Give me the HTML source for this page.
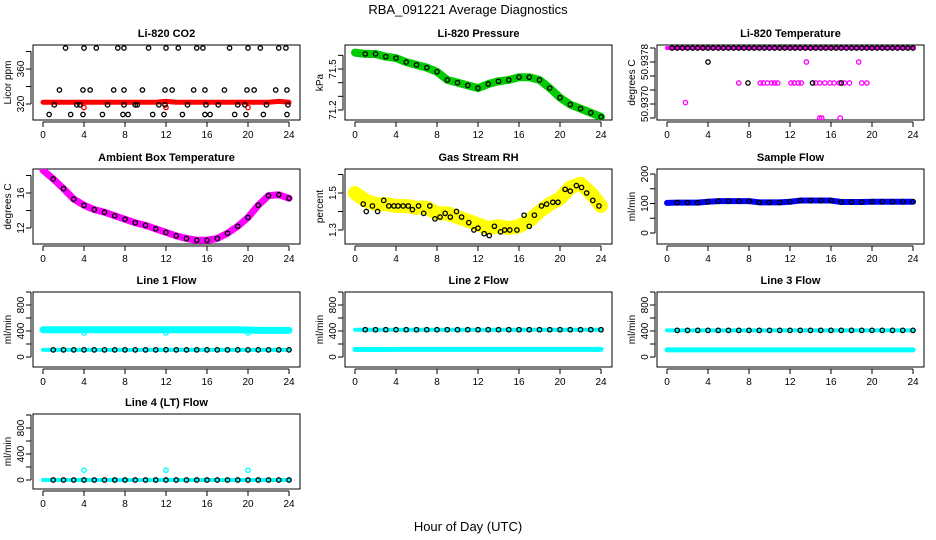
<!DOCTYPE html>
<html><head><meta charset="utf-8"><style>
html,body{margin:0;padding:0;background:#fff;}
svg{display:block;font-family:"Liberation Sans",sans-serif;}
</style></head><body>
<svg id="chart" width="936" height="540" viewBox="0 0 936 540" xmlns="http://www.w3.org/2000/svg">
<rect x="0" y="0" width="936" height="540" fill="#fff"/>
<text x="468" y="14" text-anchor="middle" font-size="13">RBA_091221  Average Diagnostics</text>
<text x="468" y="531" text-anchor="middle" font-size="13">Hour of Day (UTC)</text>
</svg>
<script>
// ---- data ----
const xTicks = [0,4,8,12,16,20,24];
const hours = [0,1,2,3,4,5,6,7,8,9,10,11,12,13,14,15,16,17,18,19,20,21,22,23,24];

const co2TopT = [2.2,4,5.2,7.3,7.9,10.3,12,13.2,15,15.6,18.2,20,21.2,23,23.7];
const co2TopV = [384,384,384,384,384,384,384,384,384,384,384,384,384,384,384];
const co2MidT = [1.6,3.9,4.6,6.9,7.9,9.7,11.9,12.6,14.7,15.8,17.7,19.9,20.6,22.7,23.8];
const co2MidV = [336,336,336,336,336,336,336,336,336,336,336,336,336,336,336];
const co2LowT = [1.1,3.3,3.6,6.3,7.9,9.0,9.2,11.3,11.9,14.1,15.9,17.1,19.0,19.7,21.8,23.9];
const co2LowV = [319,319,319,319,319,319,319,319,319,319,319,319,319,319,319,319];
const co2BotT = [0.6,2.7,3.9,5.8,7.8,8.3,10.7,11.8,13.6,15.8,16.3,18.7,19.8,21.5,23.8];
const co2BotV = [308,308,308,308,308,308,308,308,308,308,308,308,308,308,308];
const co2Red = [322,322,322,322,322,322,322,322,322,322,322,322,323,322,322,322,322,322,322,322,322,322,322,323,322];

const presBand = [71.62,71.61,71.61,71.59,71.58,71.55,71.53,71.51,71.48,71.42,71.40,71.38,71.36,71.39,71.41,71.42,71.44,71.44,71.42,71.36,71.29,71.24,71.21,71.18,71.15];

const tempTopT = [0.5,1,1.5,2,2.5,3,3.5,4,4.5,5,5.5,6,6.5,7,7.5,8,8.5,9,9.5,10,10.5,11,11.5,12,12.5,13,13.5,14,14.5,15,15.5,16,16.5,17,17.5,18,18.5,19,19.5,20,20.5,21,21.5,22,22.5,23,23.5,24];
const tempBlkT = [4,7.9,14.2,17];
const tempBlkV = [50.93775,50.937675,50.937675,50.937675];
const tempMagT = [1.8,13.6,18.7,7,9.1,9.4,9.8,10.2,10.5,10.8,12.1,12.4,12.8,13.1,14.5,14.9,15.4,15.9,16.3,16.8,17.3,17.8,19.0,19.5,14.9,15.1,16.9];
const tempMagV = [50.937605,50.93775,50.93775,50.937675,50.937675,50.937675,50.937675,50.937675,50.937675,50.937675,50.937675,50.937675,50.937675,50.937675,50.937675,50.937675,50.937675,50.937675,50.937675,50.937675,50.937675,50.937675,50.937675,50.937675,50.93755,50.93755,50.93755];

const ambient = [18.6,17.6,16.5,15.3,14.6,14.1,13.8,13.4,13.0,12.6,12.3,11.9,11.5,11.1,10.8,10.6,10.6,10.8,11.4,12.2,13.2,14.6,15.7,15.8,15.4];

const rhYellow = [1.50,1.46,1.44,1.44,1.43,1.43,1.42,1.42,1.39,1.39,1.37,1.35,1.33,1.31,1.32,1.31,1.32,1.35,1.40,1.44,1.47,1.53,1.55,1.50,1.43];
const rhBlkT = [0.8,1.1,1.7,2.2,2.8,3.3,3.8,4.2,4.7,5.2,5.6,6.2,6.7,7.3,7.8,8.3,8.8,9.3,9.9,10.4,11.1,11.6,12.0,12.6,13.1,13.6,14.2,14.6,15.1,15.8,16.5,17.0,17.5,18.2,18.7,19.3,19.8,20.5,21.0,21.6,22.1,22.6,23.2,23.8];
const rhBlkV = [1.44,1.40,1.43,1.40,1.46,1.43,1.43,1.43,1.43,1.43,1.41,1.43,1.39,1.43,1.36,1.37,1.39,1.37,1.40,1.37,1.34,1.30,1.31,1.28,1.27,1.32,1.29,1.30,1.30,1.30,1.38,1.32,1.38,1.43,1.44,1.45,1.45,1.52,1.51,1.54,1.53,1.50,1.46,1.43];

const sampleFlow = [102,103,103,103,106,108,108,108,108,104,104,104,106,110,110,110,110,105,105,105,106,106,106,106,106];

const line1Upper = [420,420,420,420,420,420,420,420,420,420,420,420,420,420,420,420,420,420,420,420,415,410,410,410,410];
const line1Lower = [110,110,110,110,110,110,110,110,110,110,110,110,112,110,110,110,110,110,110,110,110,110,110,110,110];
const line2Upper = [420,420,420,420,420,420,420,420,420,420,420,420,420,420,420,420,420,420,420,420,420,420,420,420,420];
const line2Lower = [115,115,115,115,118,118,118,118,118,118,118,118,118,118,118,118,118,118,118,118,118,118,118,118,118];
const line3Upper = [410,410,410,410,410,410,410,410,410,410,410,410,410,410,410,410,410,410,410,410,410,410,410,410,410];
const line3Lower = [110,110,110,110,110,110,110,110,110,110,110,110,110,110,110,110,110,110,110,110,110,110,110,110,110];
const line4Base = [0,0,0,0,0,0,0,0,0,0,0,0,0,0,0,0,0,0,0,0,0,0,0,0,0];
const outlierT = [4,12,20];
const line1OutV = [370,370,370];
const line4OutV = [150,150,150];

// ---- drawing ----
const NS = "http://www.w3.org/2000/svg";
const svg = document.getElementById('chart');
const colX = [0,312,624];
const rowY = [45,169,292,414];
const BH = 75;
function mk(tag, attrs, parent){
  const e = document.createElementNS(NS, tag);
  for (const k in attrs) e.setAttribute(k, attrs[k]);
  (parent||svg).appendChild(e);
  return e;
}
function panel(col,row,title,ylab,yA,yB,ticks,labels,name){
  const cx = colX[col], top = rowY[row];
  const g = mk('g',{});
  
  
  const xs = h => cx + 43 + h*246/24;
  const ys = v => top + yA[1] + (v - yA[0])*(yB[1]-yA[1])/(yB[0]-yA[0]);
  const box = mk('rect',{x:cx+33,y:top,width:267,height:BH,fill:'none',stroke:'#000','stroke-width':1},g);
  
  
  const t = mk('text',{x:cx+166.5,y:top-8,'text-anchor':'middle','font-size':11,'font-weight':'bold'},g);
  t.textContent = title;
  
  
  const yl = mk('text',{x:0,y:0,'text-anchor':'middle','font-size':10,transform:`translate(${cx+11},${top+BH/2}) rotate(-90)`},g);
  yl.textContent = ylab;
  
  
  mk('line',{x1:xs(0),x2:xs(24),y1:top+BH+2,y2:top+BH+2,stroke:'#000'},g);
  xTicks.forEach(h=>{
    mk('line',{x1:xs(h),x2:xs(h),y1:top+BH+2,y2:top+BH+7,stroke:'#000'},g);
    const tl = mk('text',{x:xs(h),y:top+BH+18,'text-anchor':'middle','font-size':10},g);
    tl.textContent = h;
    
    
  });
  mk('line',{x1:cx+31,x2:cx+31,y1:ys(ticks[0]),y2:ys(ticks[ticks.length-1]),stroke:'#000'},g);
  ticks.forEach((v,i)=>{
    mk('line',{x1:cx+26,x2:cx+31,y1:ys(v),y2:ys(v),stroke:'#000'},g);
    if (labels[i]) {
      const tl = mk('text',{x:0,y:0,'text-anchor':'middle','font-size':10,transform:`translate(${cx+24},${ys(v)}) rotate(-90)`},g);
      tl.textContent = labels[i];
      
      
    }
  });
  const clip = 'clip'+col+row;
  const cp = mk('clipPath',{id:clip},g);
  mk('rect',{x:cx+33,y:top,width:267,height:BH},cp);
  const pg = mk('g',{'clip-path':`url(#${clip})`},g);
  return {xs,ys,g:pg};
}
function band(p,T,V,color,w,name){
  const pts = T.map((t,i)=>p.xs(t)+','+p.ys(V[i])).join(' ');
  const e = mk('polyline',{points:pts,fill:'none',stroke:color,'stroke-width':w,'stroke-linejoin':'round','stroke-linecap':'round'},p.g);
  
  
}
function pts(p,T,V,color,name,r){
  T.forEach((t,i)=>{
    const c = mk('circle',{cx:p.xs(t),cy:p.ys(V[i]),r:r||2.2,fill:'none',stroke:color,'stroke-width':1.3},p.g);
    
    
  });
}

let p = panel(0,0,'Li-820 CO2','Licor ppm',[320,59],[360,24],[320,340,360,380],['320','','360',''],'panel-co2');
band(p,hours,co2Red,'#ff0000',5,'co2-red-series');
pts(p,[4,12,20],[316,316,316],'#ff0000','co2-red-point');
pts(p,co2TopT,co2TopV,'#000','co2-point');
pts(p,co2MidT,co2MidV,'#000','co2-point');
pts(p,co2LowT,co2LowV,'#000','co2-point');
pts(p,co2BotT,co2BotV,'#000','co2-point');

p = panel(1,0,'Li-820 Pressure','kPa',[71.2,65],[71.5,24],[71.2,71.3,71.4,71.5,71.6],['71.2','','','71.5',''],'panel-pressure');
band(p,hours,presBand,'#00cc00',8,'pressure-green-series');
pts(p,hours.slice(1),presBand.slice(1),'#000','pressure-point');

p = panel(2,0,'Li-820 Temperature','degrees C',[50.9378,3],[50.93775,17],[50.9378,50.93775,50.9377,50.93765,50.9376,50.93755],['','50.9378','','','50.9370',''],'panel-li820-temperature');
band(p,[0,24],[50.9378,50.9378],'#ff00ff',4,'temp-magenta-series');
pts(p,tempTopT,tempTopT.map(()=>50.9378),'#000','temp-point');
pts(p,tempMagT,tempMagV,'#ff00ff','temp-magenta-point');
pts(p,tempBlkT,tempBlkV,'#000','temp-point');

p = panel(0,1,'Ambient Box Temperature','degrees C',[16,24],[12,59],[12,14,16,18],['12','','16',''],'panel-ambient');
band(p,hours,ambient,'#ff00ff',7,'ambient-magenta-series');
pts(p,hours.slice(1),ambient.slice(1),'#000','ambient-point');

p = panel(1,1,'Gas Stream RH','percent',[1.5,24],[1.3,61],[1.3,1.4,1.5,1.6],['1.3','','1.5',''],'panel-rh');
band(p,hours,rhYellow,'#ffff00',14,'rh-yellow-series');
pts(p,rhBlkT,rhBlkV,'#000','rh-point');

p = panel(2,1,'Sample Flow','ml/min',[0,64],[200,5],[0,50,100,150,200],['0','','100','','200'],'panel-sample-flow');
band(p,hours,sampleFlow,'#0000ff',6,'sample-flow-series');
pts(p,hours.slice(1),sampleFlow.slice(1),'#000','sample-flow-point');

const flowTicks=[0,200,400,600,800,1000], flowLabels=['0','','400','','800',''];
p = panel(0,2,'Line 1 Flow','ml/min',[0,65],[400,39],flowTicks,flowLabels,'panel-line1-flow');
band(p,hours,line1Upper,'#00ffff',7,'line1-upper-series');
band(p,hours,line1Lower,'#00ffff',4,'line1-lower-series');
pts(p,outlierT,line1OutV,'#00ffff','line1-outlier');
pts(p,hours.slice(1),line1Lower.slice(1),'#000','line1-point');

p = panel(1,2,'Line 2 Flow','ml/min',[0,65],[400,39],flowTicks,flowLabels,'panel-line2-flow');
band(p,hours,line2Upper,'#00ffff',4,'line2-upper-series');
band(p,hours,line2Lower,'#00ffff',5,'line2-lower-series');
pts(p,hours.slice(1),line2Upper.slice(1),'#000','line2-point');

p = panel(2,2,'Line 3 Flow','ml/min',[0,65],[400,39],flowTicks,flowLabels,'panel-line3-flow');
band(p,hours,line3Upper,'#00ffff',4,'line3-upper-series');
band(p,hours,line3Lower,'#00ffff',5,'line3-lower-series');
pts(p,hours.slice(1),line3Upper.slice(1),'#000','line3-point');

p = panel(0,3,'Line 4 (LT) Flow','ml/min',[0,66],[400,40],flowTicks,flowLabels,'panel-line4-flow');
band(p,hours,line4Base,'#00ffff',4,'line4-series');
pts(p,outlierT,line4OutV,'#00ffff','line4-outlier');
pts(p,hours.slice(1),line4Base.slice(1),'#000','line4-point');
</script>
</body></html>
